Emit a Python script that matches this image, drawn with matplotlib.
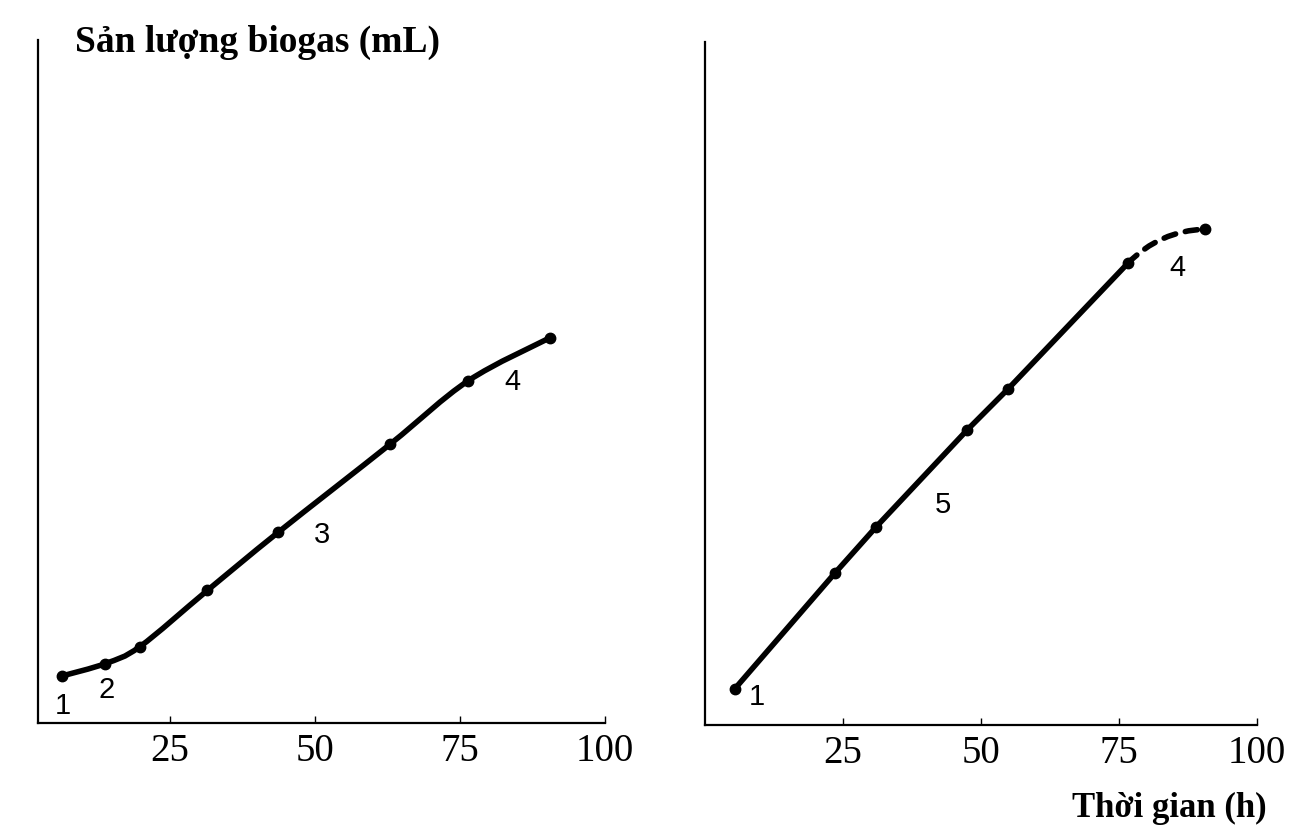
import matplotlib
matplotlib.use("Agg")
import matplotlib.pyplot as plt
import numpy as np
from matplotlib.path import Path
from matplotlib.patches import PathPatch

# Left panel: cumulative biogas yield, phases 1-4
left_time = [6.4, 13.8, 19.8, 31.4, 43.6, 62.9, 76.4, 90.5]
left_gas = [6.9, 8.7, 11.2, 19.4, 27.9, 40.8, 50.1, 56.4]

# Right panel: phase 5 replaces 2-3; last leg (phase 4) is dashed
right_time = [5.4, 23.6, 31.0, 47.5, 54.9, 76.6]
right_gas = [5.3, 22.3, 29.0, 43.2, 49.2, 67.6]
right_tail_time = [76.6, 90.6]
right_tail_gas = [67.6, 72.6]

tick_values = [25, 50, 75, 100]
tick_labels = ["25", "50", "75", "100"]

# Phase labels: (text, time, gas)
left_phase_labels = [("1", 6.4, 2.5), ("2", 14.1, 4.8), ("3", 51.2, 27.5), ("4", 84.1, 49.9)]
right_phase_labels = [("1", 9.4, 4.1), ("5", 43.1, 32.2), ("4", 85.5, 66.9)]

y_title = "Sản lượng biogas (mL)"
x_title = "Thời gian (h)"

serif = ["Liberation Serif", "DejaVu Serif"]
sans = ["Liberation Sans", "DejaVu Sans"]
LW = 4.0
MS = 7.5


def smooth_path(xs, ys):
    pts = np.column_stack([xs, ys])
    ext = np.vstack([pts[0], pts, pts[-1]])
    verts = [pts[0]]
    codes = [Path.MOVETO]
    for i in range(len(pts) - 1):
        p0, p1, p2, p3 = ext[i], ext[i + 1], ext[i + 2], ext[i + 3]
        verts += [p1 + (p2 - p0) / 6.0, p2 - (p3 - p1) / 6.0, p2]
        codes += [Path.CURVE4] * 3
    return Path(verts, codes)


def style_axes(ax, xmin):
    ax.set_xlim(xmin, 100)
    ax.set_ylim(0, 100)
    for side in ("top", "right"):
        ax.spines[side].set_visible(False)
    for side in ("left", "bottom"):
        ax.spines[side].set_linewidth(1.6)
        ax.spines[side].set_color("black")
    ax.set_xticks(tick_values)
    ax.set_xticklabels(tick_labels, fontfamily=serif, fontsize=28)
    ax.tick_params(axis="x", direction="in", length=5, width=1.0, pad=7)
    ax.set_yticks([])
    ax.patch.set_alpha(0)


fig = plt.figure(figsize=(12.92, 8.33), dpi=100)

# left axes: 38..605 px wide, 40..723 px tall
axL = fig.add_axes([38 / 1292, 110 / 833, 567 / 1292, 683 / 833])
style_axes(axL, 2.2)
axL.add_patch(PathPatch(smooth_path(left_time, left_gas), facecolor="none",
                        edgecolor="black", lw=LW, capstyle="round"))
axL.plot(left_time, left_gas, "o", color="black", ms=MS)
for t, x, y in left_phase_labels:
    axL.text(x, y, t, fontfamily=sans, fontsize=21, ha="center", va="center")

# right axes: 705..1257 px wide, 42..725 px tall
axR = fig.add_axes([705 / 1292, 108 / 833, 552 / 1292, 683 / 833])
style_axes(axR, 0)
axR.plot(right_time, right_gas, "-", color="black", lw=LW, solid_capstyle="round")
axR.plot(right_time, right_gas, "o", color="black", ms=MS)
axR.annotate("", xy=(right_tail_time[1], right_tail_gas[1]),
             xytext=(right_tail_time[0], right_tail_gas[0]),
             arrowprops=dict(arrowstyle="-", lw=LW, ls=(0, (2.2, 1.8)),
                             connectionstyle="arc3,rad=-0.2", color="black",
                             shrinkA=0, shrinkB=0))
axR.plot(right_tail_time[1:], right_tail_gas[1:], "o", color="black", ms=MS)
for t, x, y in right_phase_labels:
    axR.text(x, y, t, fontfamily=sans, fontsize=21, ha="center", va="center")

fig.text(75 / 1292, 1 - 42 / 833, y_title, fontfamily=serif, fontsize=27,
         fontweight="bold", ha="left", va="center")
fig.text(1267 / 1292, 1 - 808 / 833, x_title, fontfamily=serif, fontsize=25,
         fontweight="bold", ha="right", va="center")

fig.savefig("out.png", dpi=100, facecolor="white")
